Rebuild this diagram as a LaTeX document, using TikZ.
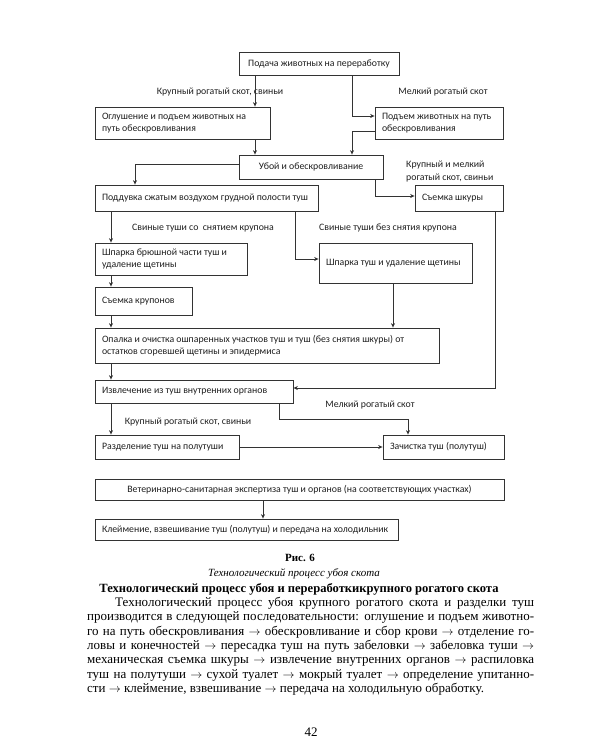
\documentclass[tikz,border=0pt]{standalone}
\usepackage{fontspec}
\setmainfont{Liberation Serif}
\newfontfamily\dfont{Carlito}
\usetikzlibrary{arrows.meta}
\definecolor{lc}{gray}{0.2}
\definecolor{tc}{gray}{0.12}
\newcommand\ra{$\rightarrow$}
\tikzset{
  fbox/.style={draw=lc, line width=0.8pt, rectangle, inner xsep=7pt, inner ysep=2pt,
    text=tc, font=\dfont\fontsize{9.8}{12.5}\selectfont},
  lbox/.style={fbox, align=flush left},
  cbox/.style={fbox, align=center},
  lab/.style={text=tc, inner sep=0pt, font=\dfont\fontsize{9.8}{12.5}\selectfont},
  arr/.style={draw=lc, line width=0.7pt, -{Stealth[length=4.5pt,width=4pt]}},
  body/.style={inner sep=0pt, anchor=base west, text=black, font=\fontsize{13}{14.3}\selectfont}
}
\begin{document}
\begin{tikzpicture}[x=1pt,y=-1pt]
\useasboundingbox[fill=white] (0,0) rectangle (600,750);
% boxes
\node[cbox, minimum width=160pt, minimum height=23pt] (A) at (319,63.5) {Подача животных на переработку};
\node[lbox, text width=161pt, minimum height=32pt] (B) at (182.5,123) {Оглушение и подъем животных на\\путь обескровливания};
\node[lbox, text width=114pt, minimum height=32pt] (C) at (439,123) {Подъем животных на путь\\обескровливания};
\node[cbox, minimum width=144pt, minimum height=24pt] (D) at (311,167) {Убой и обескровливание};
\node[lbox, text width=209pt, minimum height=26pt] (E) at (206.5,198) {Поддувка сжатым воздухом грудной полости туш};
\node[lbox, text width=74pt, minimum height=26pt] (F) at (459,198) {Съемка шкуры};
\node[lbox, text width=138pt, minimum height=32pt] (G) at (171,259) {Шпарка брюшной части туш и\\удаление щетины};
\node[lbox, text width=139pt, minimum height=40pt] (H) at (395.5,263) {Шпарка туш и удаление щетины};
\node[lbox, text width=83pt, minimum height=28pt] (I) at (143.5,301) {Съемка крупонов};
\node[lbox, text width=330pt, minimum height=35pt] (J) at (267,345.5) {Опалка и очистка ошпаренных участков туш и туш (без снятия шкуры) от\\остатков сгоревшей щетины и эпидермиса};
\node[lbox, text width=184pt, minimum height=23pt] (K) at (194,391.5) {Извлечение из туш внутренних органов};
\node[lbox, text width=130pt, minimum height=24pt] (L) at (167,447) {Разделение туш на полутуши};
\node[lbox, text width=107pt, minimum height=24pt] (M) at (443.5,447) {Зачистка туш (полутуш)};
\node[cbox, minimum width=409pt, minimum height=21pt] (N) at (299.5,489.5) {Ветеринарно-санитарная экспертиза туш и органов (на соответствующих участках)};
\node[lbox, text width=289pt, minimum height=21pt] (O) at (246.5,529.5) {Клеймение, взвешивание туш (полутуш) и передача на холодильник};
% labels
\node[lab] (l1) at (220,92) {Крупный рогатый скот, свиньи};
\node[lab] (l2) at (443,92) {Мелкий рогатый скот};
\node[lab, align=left, anchor=west] (l3) at (406,171.5) {Крупный и мелкий\\рогатый скот, свиньи};
\node[lab] (l4) at (203,228) {Свиные туши со\ \ снятием крупона};
\node[lab] (l5) at (388,228) {Свиные туши без снятия крупона};
\node[lab] (l6) at (370,405) {Мелкий рогатый скот};
\node[lab] (l7) at (188,422) {Крупный рогатый скот, свиньи};
% connectors
\draw[arr] (255,0 |- A.south) -- (255,0 |- B.north);
\draw[arr] (352,0 |- A.south) |- (C.west |- 0,116);
\draw[arr] (C.west |- 0,131) -| (352,0 |- D.north);
\draw[arr] (255,0 |- B.south) -- (255,0 |- D.north);
\draw[arr] (D.west |- 0,164) -| (135,0 |- E.north);
\draw[arr] (375,0 |- D.south) |- (F.west |- 0,196);
\draw[arr] (111,0 |- E.south) -- (111,0 |- G.north);
\draw[arr] (295,0 |- E.south) |- (H.west |- 0,259);
\draw[arr] (495,0 |- F.south) |- (K.east |- 0,388);
\draw[arr] (111,0 |- G.south) -- (111,0 |- I.north);
\draw[arr] (111,0 |- I.south) -- (111,0 |- J.north);
\draw[arr] (393,0 |- H.south) -- (393,0 |- J.north);
\draw[arr] (111,0 |- J.south) -- (111,0 |- K.north);
\draw[arr] (111,0 |- K.south) -- (111,0 |- L.north);
\draw[arr] (279,0 |- K.south) -- (279,419) -| (408,0 |- M.north);
\draw[arr] (L.east) -- (M.west);
\draw[arr] (263,0 |- N.south) -- (263,0 |- O.north);
% captions and text
\node[inner sep=0pt, anchor=base, font=\bfseries\fontsize{11}{13}\selectfont] (cap1) at (300,561) {Рис. 6};
\node[inner sep=0pt, anchor=base, font=\itshape\fontsize{11}{13}\selectfont] (cap2) at (294,576.5) {Технологический процесс убоя скота};
\node[inner sep=0pt, anchor=base, font=\bfseries\fontsize{12.55}{14.3}\selectfont] (hd) at (299,592) {Технологический процесс убоя и переработкикрупного рогатого скота};
\node[body] (t1) at (87,606.5) {\hbox to 447pt{\hspace{28pt}Технологический процесс убоя крупного рогатого скота и разделки туш}};
\node[body] (t2) at (87,620.8) {\hbox to 447pt{производится в следующей последовательности: оглушение и подъем животно-}};
\node[body] (t3) at (87,635.1) {\hbox to 447pt{го на путь обескровливания \ra{} обескровливание и сбор крови \ra{} отделение го-}};
\node[body] (t4) at (87,649.4) {\hbox to 447pt{ловы и конечностей \ra{} пересадка туш на путь забеловки \ra{} забеловка туши \ra}};
\node[body] (t5) at (87,663.7) {\hbox to 447pt{механическая съемка шкуры \ra{} извлечение внутренних органов \ra{} распиловка}};
\node[body] (t6) at (87,678) {\hbox to 447pt{туш на полутуши \ra{} сухой туалет \ra{} мокрый туалет \ra{} определение упитанно-}};
\node[body] (t7) at (87,692.3) {сти \ra{} клеймение, взвешивание \ra{} передача на холодильную обработку.};
\node[inner sep=0pt, anchor=base, font=\fontsize{13}{14.3}\selectfont] (pg) at (311,736) {42};
\end{tikzpicture}
\end{document}
